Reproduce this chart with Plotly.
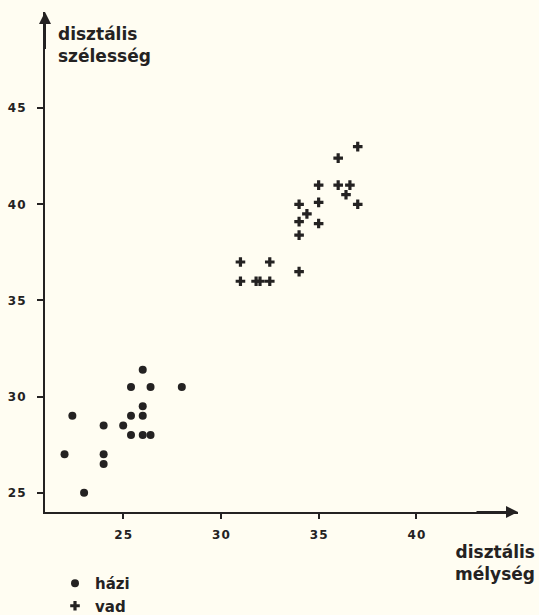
import plotly.graph_objects as go

# házi (domestic) measurements
hazi_x = [22.0, 22.4, 23.0, 24.0, 24.0, 24.0, 25.0, 25.4, 25.4, 25.4, 26.0, 26.0, 26.0, 26.0, 26.4, 26.4, 28.0]
hazi_y = [27.0, 29.0, 25.0, 28.5, 27.0, 26.5, 28.5, 30.5, 29.0, 28.0, 31.4, 29.5, 29.0, 28.0, 28.0, 30.5, 30.5]

# vad (wild) measurements
vad_x = [37.0, 36.0, 35.0, 36.0, 36.6, 36.4, 37.0, 34.0, 35.0, 34.4, 34.0, 35.0, 34.0, 34.0, 31.0, 32.5, 31.0, 31.8, 32.0, 32.5]
vad_y = [43.0, 42.4, 41.0, 41.0, 41.0, 40.5, 40.0, 40.0, 40.1, 39.5, 39.1, 39.0, 38.4, 36.5, 37.0, 37.0, 36.0, 36.0, 36.0, 36.0]

x_ticks = [25, 30, 35, 40]
y_ticks = [25, 30, 35, 40, 45]

ink = "#242222"
bg = "#fffdf2"

fig = go.Figure()
fig.add_trace(go.Scatter(x=hazi_x, y=hazi_y, mode="markers", name="házi",
                         marker=dict(symbol="circle", size=8, color=ink)))
fig.add_trace(go.Scatter(x=vad_x, y=vad_y, mode="markers", name="vad",
                         marker=dict(symbol="cross", size=8, color=ink)))

tickfont = dict(family="DejaVu Sans", size=12, color=ink, weight="bold")
sp = "\u200a"

fig.update_xaxes(range=[21, 45.2], tickvals=x_ticks,
                 ticktext=[sp.join(str(v)) for v in x_ticks],
                 showgrid=False, zeroline=False, showline=True, linecolor=ink, linewidth=2,
                 ticks="outside", ticklen=5, tickwidth=1.5, tickcolor=ink,
                 tickfont=tickfont, ticklabelstandoff=6, automargin=False)
fig.update_yaxes(range=[24, 50], tickvals=y_ticks,
                 ticktext=[sp.join(str(v)) for v in y_ticks],
                 showgrid=False, zeroline=False, showline=True, linecolor=ink, linewidth=2,
                 ticks="outside", ticklen=6, tickwidth=1.5, tickcolor=ink,
                 tickfont=tickfont, ticklabelstandoff=9, automargin=False)

# axis arrows
fig.add_annotation(x=21, y=50, ax=21, ay=48, xref="x", yref="y", axref="x", ayref="y",
                   showarrow=True, arrowhead=2, arrowsize=1.2, arrowwidth=2, arrowcolor=ink, text="")
fig.add_annotation(x=45.2, y=24, ax=43, ay=24, xref="x", yref="y", axref="x", ayref="y",
                   showarrow=True, arrowhead=2, arrowsize=1.2, arrowwidth=2, arrowcolor=ink, text="")

titlefont = dict(family="DejaVu Sans", size=17, color=ink, weight="bold")
fig.add_annotation(text="disztális<br>szélesség", xref="paper", yref="paper",
                   x=11 / 473, y=1 - 10 / 500, xanchor="left", yanchor="top",
                   align="left", showarrow=False, font=titlefont)
fig.add_annotation(text="disztális<br>mélység", xref="paper", yref="paper",
                   x=1 + 19 / 473, y=-28 / 500, xanchor="right", yanchor="top",
                   align="right", showarrow=False, font=titlefont)

fig.update_layout(
    width=539, height=615,
    margin=dict(l=45, r=21, t=12, b=103, autoexpand=False),
    paper_bgcolor=bg, plot_bgcolor=bg,
    showlegend=True,
    legend=dict(x=10 / 473, y=-55 / 500, xanchor="left", yanchor="top",
                bgcolor="rgba(0,0,0,0)", font=dict(family="DejaVu Sans", size=15, color=ink, weight="bold"),
                tracegroupgap=0, itemwidth=30),
)

fig.write_html("out.html", config={"displayModeBar": False},
               post_script="document.body.style.margin='0';document.body.style.background='%s';" % bg)
